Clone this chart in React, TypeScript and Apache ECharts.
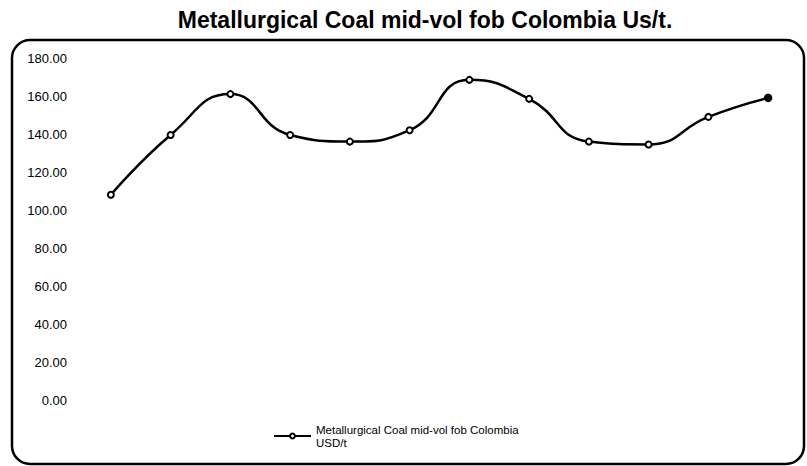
import React, { useEffect, useRef } from "react";
import * as echarts from "echarts";

const categories = ["1", "2", "3", "4", "5", "6", "7", "8", "9", "10", "11", "12"];
const values = [108, 139.5, 161, 139.5, 136, 142, 168.5, 158.5, 136, 134.5, 149, 159];
const yTicks = { min: 0, max: 180, interval: 20 };
const seriesName = "Metallurgical Coal mid-vol fob Colombia\nUSD/t";
const titleText = "Metallurgical Coal mid-vol fob Colombia Us/t.";

export default function App() {
  const ref = useRef<HTMLDivElement>(null);
  useEffect(() => {
    if (!ref.current) return;
    const chart = echarts.init(ref.current, undefined, { renderer: "svg" });
    const font = "'Liberation Sans', Arial, sans-serif";
    chart.setOption({
      animation: false,
      backgroundColor: "#ffffff",
      title: {
        text: titleText,
        left: 420,
        textAlign: "center",
        top: 3,
        textStyle: { fontFamily: font, fontSize: 23, fontWeight: "bold", color: "#000" },
      },
      graphic: [
        {
          type: "rect",
          shape: { x: 12, y: 40, width: 792, height: 424, r: 18 },
          style: { fill: "none", stroke: "#000", lineWidth: 2.5 },
          silent: true,
          z: 0,
        },
      ],
      legend: {
        show: true,
        left: 268,
        bottom: 12,
        orient: "horizontal",
        itemWidth: 37,
        itemHeight: 6,
        itemGap: 4,
        data: [{ name: seriesName }],
        textStyle: { fontFamily: font, fontSize: 11.5, color: "#000", lineHeight: 13 },
      },
      grid: { left: 81, right: 9, top: 58, bottom: 66 },
      xAxis: {
        type: "category",
        data: categories,
        boundaryGap: true,
        axisLine: { show: false },
        axisTick: { show: false },
        axisLabel: { show: false },
        splitLine: { show: false },
      },
      yAxis: {
        type: "value",
        min: yTicks.min,
        max: yTicks.max,
        interval: yTicks.interval,
        axisLine: { show: false },
        axisTick: { show: false },
        splitLine: { show: false },
        axisLabel: {
          margin: 14,
          fontFamily: font,
          fontSize: 13,
          color: "#000",
          formatter: (v: number) => v.toFixed(2),
        },
      },
      series: [
        {
          name: seriesName,
          type: "line",
          data: values.map((v, i) =>
            i === values.length - 1
              ? { value: v, symbol: "circle", symbolSize: 7, itemStyle: { color: "#000" } }
              : v
          ),
          smooth: 0.5,
          symbol: "emptyCircle",
          symbolSize: 6,
          showAllSymbol: true,
          lineStyle: { color: "#000", width: 2.5 },
          itemStyle: { color: "#000", borderColor: "#000", borderWidth: 1.5 },
        },
      ],
    });
    return () => chart.dispose();
  }, []);
  return <div ref={ref} style={{ width: 807, height: 466, position: "absolute", left: 0, top: 0 }} />;
}
